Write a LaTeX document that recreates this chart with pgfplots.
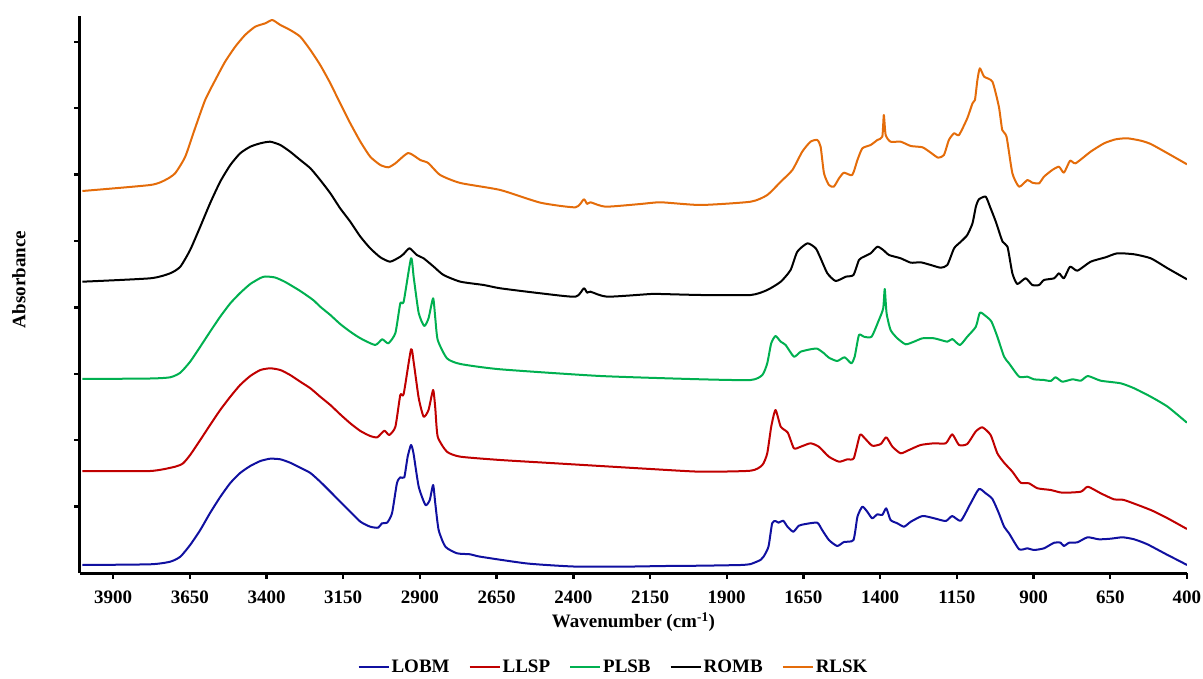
\documentclass[border=0pt]{standalone}
\usepackage{pgfplots}
\pgfplotsset{compat=1.18}
\usepackage{fontspec}
\setmainfont{Liberation Serif}

\definecolor{cLOBM}{RGB}{16,16,160}
\definecolor{cLLSP}{RGB}{192,0,0}
\definecolor{cPLSB}{RGB}{0,176,80}
\definecolor{cROMB}{RGB}{0,0,0}
\definecolor{cRLSK}{RGB}{228,108,10}

\begin{document}
\begin{tikzpicture}
\begin{axis}[
  at={(0pt,0pt)}, anchor=south west,
  scale only axis, width=1107pt, height=557pt,
  x dir=reverse, xmin=400, xmax=4008,
  ymin=0, ymax=5.57,
  axis x line=bottom, axis y line=left,
  axis line style={-, line width=3pt},
  xtick={400,650,...,3900},
  ytick={0.664,1.328,1.992,2.656,3.32,3.984,4.648,5.312},
  yticklabels={},
  tick align=outside,
  major tick length=5.5pt,
  tick style={line width=2.4pt, black},
  /pgf/number format/assume math mode=true,
  /pgf/number format/1000 sep={},
  tick label style={font=\fontsize{19}{22}\selectfont\bfseries},
  xticklabel style={yshift=-9pt},
  xlabel={Wavenumber (cm\textsuperscript{-1})},
  ylabel={Absorbance},
  label style={font=\fontsize{19}{22}\selectfont\bfseries},
  xlabel style={at={(axis description cs:0.5,-0.0987)}, anchor=base},
  ylabel style={at={(axis description cs:-0.0551,0.527)}, anchor=center},
  legend columns=5,
  legend style={draw=none, fill=none, at={(axis description cs:0.482,-0.1688)}, anchor=center,
    font=\fontsize{19}{22}\selectfont\bfseries,
    /tikz/every even column/.append style={column sep=17pt}},
  legend image code/.code={\draw[#1] (0pt,0pt) -- (30pt,0pt);},
  every axis plot/.append style={line width=2pt, line join=round, no marks, smooth, tension=0.35},
]

% LOBM
\addplot[cLOBM] coordinates {
(4000,0.080) (3779,0.087) (3714,0.113) (3681,0.163) (3649,0.280) (3616,0.430)
(3584,0.600) (3551,0.760) (3518,0.900) (3486,1.000) (3453,1.070) (3420,1.120)
(3388,1.143) (3355,1.137) (3323,1.103) (3290,1.053) (3257,1.000) (3225,0.913)
(3192,0.813) (3160,0.713) (3127,0.613) (3094,0.513) (3062,0.463) (3036,0.453)
(3024,0.497) (3007,0.503) (2991,0.597) (2975,0.897) (2964,0.957) (2951,0.957)
(2940,1.163) (2929,1.280) (2921,1.197) (2904,0.863) (2882,0.680) (2868,0.730)
(2857,0.880) (2850,0.697) (2839,0.430) (2817,0.263) (2779,0.197) (2736,0.187)
(2703,0.163) (2550,0.095) (2400,0.065) (2250,0.063) (2100,0.070) (1985,0.073)
(1855,0.080) (1822,0.090) (1790,0.130) (1780,0.163) (1764,0.263) (1752,0.497)
(1741,0.520) (1731,0.503) (1716,0.523) (1702,0.463) (1683,0.413) (1665,0.473)
(1643,0.490) (1605,0.503) (1589,0.430) (1567,0.330) (1540,0.270) (1518,0.310)
(1487,0.330) (1474,0.563) (1458,0.663) (1442,0.613) (1426,0.547) (1409,0.587)
(1393,0.580) (1380,0.647) (1366,0.530) (1344,0.497) (1322,0.463) (1300,0.513)
(1262,0.570) (1224,0.547) (1186,0.520) (1165,0.570) (1137,0.523) (1105,0.697)
(1078,0.840) (1056,0.797) (1034,0.740) (1013,0.597) (996,0.463) (980,0.397)
(947,0.237) (920,0.247) (899,0.230) (866,0.247) (833,0.303) (812,0.303)
(801,0.270) (784,0.303) (757,0.307) (724,0.357) (687,0.337) (649,0.343)
(610,0.357) (572,0.337) (529,0.287) (463,0.180) (420,0.113) (400,0.080)
};
\addlegendentry{LOBM}

% LLSP
\addplot[cLLSP] coordinates {
(4000,1.020) (3779,1.020) (3698,1.063) (3672,1.097) (3649,1.180) (3616,1.330)
(3584,1.480) (3551,1.630) (3518,1.763) (3486,1.880) (3453,1.970) (3420,2.030)
(3388,2.047) (3355,2.030) (3323,1.980) (3290,1.913) (3257,1.847) (3225,1.763)
(3192,1.680) (3160,1.587) (3127,1.497) (3094,1.420) (3062,1.370) (3039,1.357)
(3016,1.423) (3000,1.380) (2980,1.463) (2964,1.780) (2953,1.790) (2929,2.237)
(2920,2.100) (2904,1.750) (2888,1.563) (2872,1.630) (2857,1.830) (2850,1.650)
(2842,1.363) (2812,1.213) (2768,1.163) (2638,1.130) (2475,1.100) (2312,1.070)
(2148,1.040) (1985,1.013) (1822,1.023) (1784,1.080) (1768,1.197) (1755,1.463)
(1741,1.630) (1724,1.463) (1701,1.403) (1681,1.247) (1659,1.263) (1627,1.297)
(1600,1.263) (1567,1.163) (1534,1.113) (1507,1.137) (1486,1.147) (1466,1.380)
(1453,1.357) (1426,1.273) (1398,1.290) (1380,1.357) (1360,1.263) (1333,1.197)
(1306,1.230) (1268,1.280) (1224,1.297) (1186,1.297) (1165,1.387) (1143,1.280)
(1116,1.290) (1089,1.413) (1067,1.457) (1040,1.380) (1018,1.197) (996,1.103)
(969,1.013) (942,0.903) (915,0.897) (887,0.847) (844,0.830) (806,0.803)
(746,0.813) (723,0.863) (681,0.797) (638,0.737) (605,0.730) (518,0.630)
(463,0.547) (400,0.440)
};
\addlegendentry{LLSP}

% PLSB
\addplot[cPLSB] coordinates {
(4000,1.940) (3779,1.945) (3714,1.957) (3681,2.003) (3649,2.113) (3616,2.263)
(3584,2.413) (3551,2.563) (3518,2.697) (3486,2.800) (3453,2.890) (3420,2.950)
(3404,2.965) (3372,2.955) (3339,2.910) (3290,2.820) (3248,2.730) (3225,2.663)
(3192,2.580) (3160,2.490) (3127,2.413) (3094,2.347) (3046,2.280) (3023,2.337)
(3003,2.297) (2980,2.400) (2964,2.697) (2953,2.713) (2929,3.147) (2920,2.950)
(2904,2.600) (2886,2.470) (2872,2.547) (2857,2.747) (2850,2.550) (2842,2.330)
(2812,2.147) (2768,2.090) (2638,2.037) (2312,1.970) (1985,1.937) (1822,1.930)
(1784,1.980) (1768,2.097) (1755,2.297) (1741,2.370) (1724,2.313) (1708,2.280)
(1681,2.163) (1659,2.213) (1627,2.237) (1605,2.243) (1583,2.197) (1567,2.153)
(1540,2.120) (1516,2.157) (1494,2.097) (1483,2.163) (1469,2.380) (1453,2.363)
(1428,2.363) (1404,2.530) (1390,2.647) (1385,2.840) (1379,2.597) (1366,2.430)
(1344,2.347) (1317,2.287) (1290,2.313) (1262,2.347) (1224,2.347) (1181,2.313)
(1165,2.340) (1140,2.280) (1116,2.363) (1088,2.463) (1075,2.603) (1056,2.570)
(1037,2.513) (1018,2.363) (996,2.163) (980,2.097) (947,1.963) (920,1.963)
(899,1.937) (866,1.930) (844,1.920) (828,1.957) (806,1.913) (773,1.937)
(746,1.923) (723,1.970) (681,1.923) (616,1.897) (572,1.847) (518,1.763)
(463,1.663) (400,1.503)
};
\addlegendentry{PLSB}

% ROMB
\addplot[cROMB] coordinates {
(4000,2.913) (3779,2.947) (3714,2.997) (3681,3.063) (3649,3.230) (3616,3.463)
(3584,3.697) (3551,3.913) (3518,4.080) (3486,4.197) (3453,4.263) (3420,4.297)
(3388,4.313) (3355,4.280) (3323,4.213) (3290,4.130) (3257,4.047) (3225,3.930)
(3192,3.797) (3160,3.647) (3127,3.513) (3094,3.363) (3062,3.247) (3029,3.157)
(2997,3.113) (2964,3.163) (2953,3.190) (2934,3.247) (2910,3.180) (2888,3.147)
(2855,3.063) (2823,2.980) (2768,2.913) (2692,2.880) (2638,2.847) (2507,2.797)
(2393,2.763) (2366,2.847) (2355,2.803) (2344,2.813) (2290,2.763) (2148,2.790)
(2115,2.790) (1985,2.780) (1822,2.780) (1768,2.830) (1724,2.913) (1692,3.030)
(1670,3.213) (1637,3.297) (1610,3.247) (1594,3.147) (1572,2.997) (1545,2.920)
(1512,2.963) (1487,2.980) (1469,3.130) (1453,3.163) (1431,3.197) (1409,3.263)
(1390,3.230) (1371,3.180) (1333,3.147) (1300,3.103) (1268,3.107) (1235,3.080)
(1203,3.053) (1181,3.080) (1159,3.247) (1137,3.313) (1116,3.380) (1099,3.497)
(1088,3.663) (1078,3.737) (1056,3.763) (1042,3.663) (1023,3.513) (1001,3.313)
(985,3.263) (969,2.997) (953,2.890) (926,2.947) (904,2.880) (882,2.880)
(866,2.930) (833,2.947) (817,2.997) (801,2.947) (781,3.063) (757,3.023)
(714,3.113) (665,3.157) (627,3.197) (572,3.187) (518,3.147) (463,3.047)
(400,2.937)
};
\addlegendentry{ROMB}

% RLSK
\addplot[cRLSK] coordinates {
(4000,3.820) (3779,3.880) (3730,3.930) (3698,3.997) (3665,4.163) (3633,4.447)
(3600,4.730) (3567,4.930) (3535,5.113) (3502,5.263) (3470,5.380) (3437,5.463)
(3404,5.497) (3381,5.530) (3355,5.480) (3323,5.430) (3290,5.363) (3257,5.230)
(3225,5.080) (3192,4.897) (3160,4.697) (3127,4.497) (3094,4.313) (3062,4.163)
(3029,4.080) (3003,4.057) (2980,4.097) (2938,4.200) (2899,4.130) (2873,4.100)
(2834,3.980) (2768,3.900) (2638,3.830) (2507,3.703) (2393,3.657) (2366,3.737)
(2355,3.690) (2344,3.707) (2295,3.663) (2181,3.690) (2115,3.707) (1985,3.680)
(1822,3.713) (1768,3.780) (1724,3.913) (1686,4.030) (1654,4.213) (1627,4.313)
(1605,4.330) (1594,4.263) (1583,3.997) (1567,3.880) (1551,3.863) (1534,3.947)
(1518,4.003) (1491,3.980) (1474,4.130) (1458,4.247) (1431,4.280) (1409,4.330)
(1393,4.363) (1388,4.580) (1382,4.380) (1366,4.313) (1333,4.313) (1300,4.270)
(1262,4.257) (1235,4.203) (1211,4.153) (1192,4.180) (1176,4.330) (1159,4.397)
(1143,4.380) (1116,4.547) (1099,4.697) (1091,4.730) (1083,4.930) (1075,5.047)
(1061,4.963) (1034,4.913) (1013,4.663) (1002,4.430) (988,4.363) (969,3.997)
(947,3.863) (920,3.930) (904,3.903) (882,3.897) (866,3.963) (839,4.030)
(817,4.063) (801,4.003) (781,4.123) (763,4.097) (714,4.213) (670,4.297)
(632,4.337) (594,4.347) (550,4.323) (518,4.290) (463,4.197) (400,4.087)
};
\addlegendentry{RLSK}

\end{axis}
\pgfresetboundingbox
\path (-80pt,-105pt) rectangle (1123pt,573pt);
\end{tikzpicture}
\end{document}
